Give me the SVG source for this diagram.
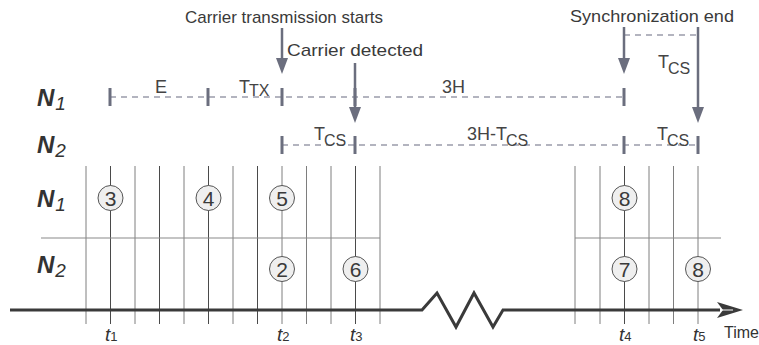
<svg xmlns="http://www.w3.org/2000/svg" width="759" height="345" viewBox="0 0 759 345">
<style>
text { font-family: "Liberation Sans", Arial, sans-serif; fill: #333; }
.dash { stroke: #9a9caa; stroke-width: 1.5; stroke-dasharray: 6 5; fill: none; }
.mk { stroke: #6b6e7e; stroke-width: 3; }
.arr { stroke: #6b6e7e; stroke-width: 2.5; }
.head { fill: #6b6e7e; }
.grid { stroke: #7e7e7e; stroke-width: 1; }
.gd { stroke: #4a4a4a; }
.sep { stroke: #8a8a8a; stroke-width: 1.2; }
.circ { fill: #efefef; stroke: #555; stroke-width: 1; }
.num { font-size: 21px; text-anchor: middle; fill: #3a3a3a; }
.ann { font-size: 17px; fill: #3a3a3a; }
.lbl { font-size: 18px; fill: #444; }
.sub { font-size: 16px; }
.node { font-size: 24px; font-weight: bold; font-style: italic; fill: #333; }
.nsub { font-size: 19px; font-weight: normal; font-style: italic; }
.tk { font-size: 19px; font-style: italic; fill: #333; }
.tks { font-size: 13px; font-style: normal; }
.axis { stroke: #3a3a3a; stroke-width: 3; fill: none; }
</style>

<g id="row-labels">
  <text class="node" x="37" y="106">N<tspan class="nsub" dx="1" dy="4">1</tspan></text>
  <text class="node" x="37" y="153">N<tspan class="nsub" dx="1" dy="4">2</tspan></text>
  <text class="node" x="37" y="207">N<tspan class="nsub" dx="1" dy="4">1</tspan></text>
  <text class="node" x="37" y="273">N<tspan class="nsub" dx="1" dy="4">2</tspan></text>
</g>

<g id="grid">
  <line class="grid" x1="86" y1="166" x2="86" y2="324"/>
  <line class="grid gd" x1="110.5" y1="166" x2="110.5" y2="324"/>
  <line class="grid" x1="135" y1="166" x2="135" y2="324"/>
  <line class="grid gd" x1="159.5" y1="166" x2="159.5" y2="324"/>
  <line class="grid" x1="184" y1="166" x2="184" y2="324"/>
  <line class="grid gd" x1="208.5" y1="166" x2="208.5" y2="324"/>
  <line class="grid" x1="233" y1="166" x2="233" y2="324"/>
  <line class="grid gd" x1="257.5" y1="166" x2="257.5" y2="324"/>
  <line class="grid" x1="282" y1="166" x2="282" y2="324"/>
  <line class="grid" x1="306.5" y1="166" x2="306.5" y2="324"/>
  <line class="grid" x1="331" y1="166" x2="331" y2="324"/>
  <line class="grid gd" x1="355.5" y1="166" x2="355.5" y2="324"/>
  <line class="grid" x1="380" y1="166" x2="380" y2="324"/>
  <line class="grid" x1="575" y1="166" x2="575" y2="324"/>
  <line class="grid" x1="600" y1="166" x2="600" y2="324"/>
  <line class="grid gd" x1="624.5" y1="166" x2="624.5" y2="324"/>
  <line class="grid" x1="649" y1="166" x2="649" y2="324"/>
  <line class="grid" x1="673.5" y1="166" x2="673.5" y2="324"/>
  <line class="grid" x1="698" y1="166" x2="698" y2="324"/>
  <line class="sep" x1="41" y1="238" x2="380" y2="238"/>
  <line class="sep" x1="575" y1="238" x2="721" y2="238"/>
</g>

<g id="connectors">
  <line class="dash" x1="110" y1="97" x2="624" y2="97"/>
  <line class="dash" x1="282" y1="145" x2="698" y2="145"/>
  <line class="dash" x1="624" y1="35" x2="698" y2="35"/>
  <line class="mk" x1="110" y1="88" x2="110" y2="106"/>
  <line class="mk" x1="208" y1="88" x2="208" y2="106"/>
  <line class="mk" x1="282" y1="88" x2="282" y2="106"/>
  <line class="mk" x1="355" y1="88" x2="355" y2="106"/>
  <line class="mk" x1="624" y1="88" x2="624" y2="106"/>
  <line class="mk" x1="282" y1="136" x2="282" y2="154"/>
  <line class="mk" x1="355" y1="136" x2="355" y2="154"/>
  <line class="mk" x1="624" y1="136" x2="624" y2="154"/>
  <line class="mk" x1="698" y1="136" x2="698" y2="154"/>
  <line class="arr" x1="282" y1="28" x2="282" y2="60"/>
  <polygon class="head" points="276,58 288,58 282,74"/>
  <line class="arr" x1="355" y1="63" x2="355" y2="109"/>
  <polygon class="head" points="349,107 361,107 355,123"/>
  <line class="arr" x1="624" y1="27" x2="624" y2="60"/>
  <polygon class="head" points="618,58 630,58 624,74"/>
  <line class="arr" x1="698" y1="27" x2="698" y2="109"/>
  <polygon class="head" points="692,107 704,107 698,123"/>
</g>

<g id="annotations">
  <text class="ann" x="284" y="23" text-anchor="middle" textLength="198" lengthAdjust="spacingAndGlyphs">Carrier transmission starts</text>
  <text class="ann" x="287" y="56" textLength="136" lengthAdjust="spacingAndGlyphs">Carrier detected</text>
  <text class="ann" x="652" y="22" text-anchor="middle" textLength="164" lengthAdjust="spacingAndGlyphs">Synchronization end</text>
  <text class="lbl" x="155" y="93">E</text>
  <text class="lbl" x="239" y="93">T<tspan class="sub" dx="-1" dy="3">TX</tspan></text>
  <text class="lbl" x="442" y="93">3H</text>
  <text class="lbl" x="314" y="140">T<tspan class="sub" dx="-1" dy="6">CS</tspan></text>
  <text class="lbl" x="467" y="140">3H-T<tspan class="sub" dx="-1" dy="6">CS</tspan></text>
  <text class="lbl" x="657" y="140">T<tspan class="sub" dx="-1" dy="6">CS</tspan></text>
  <text class="lbl" x="658" y="68">T<tspan class="sub" dx="-1" dy="6">CS</tspan></text>
</g>

<g id="axis">
  <polyline class="axis" points="10,310 422,310 437,293 456,327 474,293 493,327 503,310 720,310"/>
  <polygon fill="#3a3a3a" points="743,310 717,302 723,310 717,318"/>
  <line x1="721" y1="310" x2="733" y2="310" stroke="#fff" stroke-width="1"/>
  <text class="tk" x="105" y="341">t<tspan class="tks">1</tspan></text>
  <text class="tk" x="277" y="341">t<tspan class="tks">2</tspan></text>
  <text class="tk" x="350" y="341">t<tspan class="tks">3</tspan></text>
  <text class="tk" x="619" y="341">t<tspan class="tks">4</tspan></text>
  <text class="tk" x="693" y="341">t<tspan class="tks">5</tspan></text>
  <text x="724" y="338" font-size="16">Time</text>
</g>

<g id="ev3"><circle class="circ" cx="110.5" cy="198" r="12.5"/><text class="num" x="110.5" y="205.5">3</text></g>
<g id="ev4"><circle class="circ" cx="208.5" cy="198" r="12.5"/><text class="num" x="208.5" y="205.5">4</text></g>
<g id="ev5"><circle class="circ" cx="282" cy="198" r="12.5"/><text class="num" x="282" y="205.5">5</text></g>
<g id="ev2"><circle class="circ" cx="282" cy="269" r="12.5"/><text class="num" x="282" y="276.5">2</text></g>
<g id="ev6"><circle class="circ" cx="355.5" cy="269" r="12.5"/><text class="num" x="355.5" y="276.5">6</text></g>
<g id="ev8a"><circle class="circ" cx="624.5" cy="198" r="12.5"/><text class="num" x="624.5" y="205.5">8</text></g>
<g id="ev7"><circle class="circ" cx="624.5" cy="269" r="12.5"/><text class="num" x="624.5" y="276.5">7</text></g>
<g id="ev8b"><circle class="circ" cx="698" cy="269" r="12.5"/><text class="num" x="698" y="276.5">8</text></g>
</svg>
